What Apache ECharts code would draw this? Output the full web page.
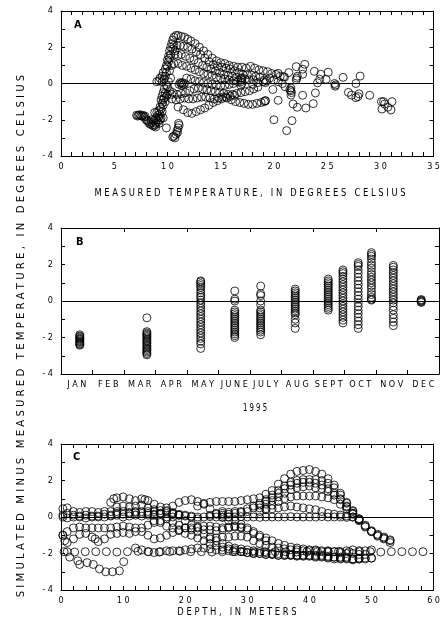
<!DOCTYPE html>
<html>
<head>
<meta charset="utf-8">
<script src="https://cdn.jsdelivr.net/npm/echarts@6/dist/echarts.min.js"></script>
<style>
  html, body { margin: 0; padding: 0; background: #fff; }
  #chart { width: 443px; height: 633px; }
</style>
</head>
<body>
<div id="chart"></div>
<script>
// ---------- Panel A: difference vs measured temperature (deg C) ----------
const aColdBlob = [[7.1,-1.75],[7.3,-1.75],[7.5,-1.78],[7.7,-1.75],[7.2,-1.8],[7.4,-1.72],[7.6,-1.8],[7.8,-1.85],[7.9,-1.8],
  [8.0,-2.0],[8.2,-2.1],[8.3,-2.2],[8.1,-2.05],[8.4,-2.25],[8.5,-2.15],[8.6,-2.3],[8.7,-2.35],[8.8,-2.3],[8.9,-2.2],[8.5,-2.0],
  [8.7,-2.05],[9.0,-2.0],[9.1,-2.1],[8.9,-1.9],[9.2,-1.85],[8.8,-1.6],[9.0,-1.6],[9.1,-1.75],[9.3,-1.7],[9.2,-1.5],[9.3,-1.3],
  [9.4,-1.4],[9.5,-1.1],[9.4,-0.9],[9.5,-0.7],[9.6,-0.9],[9.6,-0.5],[9.7,-0.3],[9.8,-0.55],[9.6,-1.2],[9.7,-0.8],[9.8,-1.0],
  [9.9,-0.7],[9.5,-1.55],[9.4,-1.9],[9.3,-2.0],[9.6,-1.9],[9.2,-2.2],[8.9,-2.4]];
const aRise = [[9.0,0.1],[9.2,0.15],[9.3,0.3],[9.5,0.4],[9.5,0.1],[9.7,0.25],[9.6,0.6],[9.8,0.8],[9.8,0.4],[9.9,1.0],[10.0,1.3],
  [9.9,0.6],[10.0,0.95],[10.1,1.5],[10.1,1.2],[10.2,1.8],[10.2,1.4],[10.3,2.0],[10.3,1.6],[10.4,2.2],[10.5,2.4],[10.6,2.55],
  [10.8,2.65],[10.5,1.9],[10.6,2.1],[10.7,1.8],[10.4,1.0],[10.2,0.7],[10.3,0.3],[10.1,0.1],[10.0,-0.2],[10.2,-0.4],[10.4,-0.6],
  [10.0,-0.6],[9.9,-0.1]];
const aWarm1 = [[11.0,2.65],[11.3,2.6],[11.6,2.55],[11.9,2.45],[12.2,2.35],[12.6,2.2],[13.0,2.0],[13.4,1.8],[13.8,1.6],[14.2,1.4],
  [14.6,1.25],[15.0,1.15],[15.4,1.1],[15.8,1.0],[16.2,0.95],[16.6,0.9],[17.0,0.9],[17.4,0.85],[17.8,0.95],[18.2,0.85],[18.6,0.75],
  [19.0,0.7],[19.4,0.65],[19.8,0.55],[20.2,0.5],[20.6,0.4],[21.0,0.35]];
const aWarm2 = [[10.9,2.1],[11.2,2.1],[11.5,2.05],[11.9,2.0],[12.3,1.9],[12.7,1.75],[13.1,1.6],[13.5,1.4],[13.9,1.2],[14.3,1.05],
  [14.7,0.95],[15.1,0.9],[15.5,0.85],[15.9,0.8],[16.3,0.7],[16.7,0.6],[17.1,0.5],[17.5,0.5],[17.9,0.45],[18.3,0.4],[18.7,0.35]];
const aWarm3 = [[10.7,1.6],[11.0,1.55],[11.3,1.6],[11.7,1.5],[12.1,1.4],[12.5,1.3],[12.9,1.15],[13.3,1.0],[13.7,0.9],[14.1,0.8],
  [14.5,0.7],[14.9,0.6],[15.3,0.5],[15.7,0.45],[16.1,0.4],[16.5,0.35],[16.9,0.3],[17.3,0.25],[17.7,0.2],[18.1,0.2]];
const aWarm4 = [[10.6,1.1],[11.0,1.1],[11.4,1.0],[11.8,0.95],[12.2,0.85],[12.6,0.75],[13.0,0.65],[13.4,0.55],[13.8,0.5],[14.2,0.45],
  [14.6,0.35],[15.0,0.3],[15.4,0.25],[15.8,0.2],[16.2,0.15],[16.6,0.1],
  [11.8,0.3],[12.2,0.25],[12.6,0.15],[13.0,0.1],[13.4,0.05],[13.8,0.0],[14.2,-0.05],[14.6,-0.1],[15.0,-0.15],[15.4,-0.1],[15.8,-0.05],[16.2,0.0],
  [11.1,-0.05],[11.3,0.0],[11.5,-0.05],[11.4,0.05],[11.2,0.05],[11.6,0.0],[11.35,-0.1]];
const aCool = [[10.5,-0.5],[10.9,-0.6],[11.3,-0.55],[11.7,-0.5],[12.1,-0.4],[12.5,-0.3],[12.9,-0.25],[13.3,-0.3],[13.7,-0.35],[14.1,-0.4],
  [14.5,-0.45],[14.9,-0.5],[15.3,-0.55],[15.7,-0.6],[16.1,-0.6],[16.5,-0.55],[16.9,-0.5],[17.3,-0.45],[17.7,-0.4],[18.1,-0.3],[18.5,-0.2],
  [10.4,-0.85],[10.8,-0.9],[11.2,-0.85],[11.6,-0.8],[12.0,-0.85],[12.4,-0.85],[12.8,-0.8],[13.2,-0.75],[13.6,-0.75],[14.0,-0.8],
  [14.4,-0.85],[14.8,-0.8],[15.2,-0.75],[15.6,-0.8],[16.0,-0.9],[16.4,-1.0],[16.8,-1.05],[17.2,-1.1],[17.6,-1.15],[18.0,-1.15],
  [18.4,-1.1],[18.8,-1.05],[19.2,-0.95],
  [11.0,-1.3],[11.5,-1.45],[11.9,-1.6],[12.3,-1.65],[12.7,-1.55],[13.1,-1.45],[13.5,-1.35],[13.9,-1.2],[14.3,-1.05],[14.7,-0.95],
  [15.1,-0.85],[15.5,-0.75],[15.9,-0.7],[16.3,-0.65],
  [9.9,-2.45],[10.5,-2.95],[10.7,-3.0],[10.8,-2.8],[10.9,-2.6],[11.0,-2.45],[11.1,-2.3],[11.05,-2.2],[10.95,-2.7],[10.6,-2.9]];
const aSummer = [[16.9,0.1],[16.95,0.2],[17.0,0.3],[17.0,0.0],[16.9,-0.1],[19.0,0.1],[19.1,0.2],[19.2,0.05],[19.3,0.15],
  [18.0,-0.05],[18.5,0.05],[19.6,0.3],[20.0,0.2],[20.4,0.1],[20.8,0.0],[19.2,-0.95],[19.1,-1.0],[20.4,0.56],[20.9,0.38],
  [21.4,0.6],[21.05,-0.18],[20.0,-2.0],[21.2,-2.6],[21.7,-2.05],[20.4,-0.93],[19.9,-0.33],[21.8,-1.13],[22.2,-1.31],[23.0,-1.35],
  [23.7,-1.11],[23.9,-0.52],[22.7,-0.65],[22.9,1.06],[22.1,0.93],[22.7,0.79],[22.7,0.51],[22.1,0.2],[22.15,0.3],[22.2,0.4],
  [21.6,-0.25],[21.6,-0.4],[21.65,-0.5],[21.6,-0.64],[21.5,-0.35],[23.8,0.67],[24.4,0.51],[25.1,0.62],[24.3,0.23],[24.1,0.04],
  [24.9,0.23],[25.8,-0.08],[25.7,0.0],[25.75,-0.15],[26.5,0.34],[27.7,0.0],[28.1,0.41],[27.0,-0.49],[27.3,-0.64],[27.7,-0.78],
  [27.9,-0.72],[28.0,-0.57],[29.0,-0.65],[30.3,-1.0],[30.4,-1.13],[30.15,-1.41],[30.7,-1.31],[31.1,-1.0],[31.0,-1.46],[30.1,-1.0]];

// ---------- Panel B: difference by sampling date, 1995 ----------
const months = ['JAN','FEB','MAR','APR','MAY','JUNE','JULY','AUG','SEPT','OCT','NOV','DEC'];
const monthDays = [31,28,31,30,31,30,31,31,30,31,30,31];
const sampleDates = [[1,19],[3,23],[5,14],[6,16],[7,11],[8,14],[9,15],[9,29],[10,14],[10,27],[11,17],[12,14]];
const diffJan = [-1.85,-1.92,-1.97,-2.03,-2.08,-2.12,-2.18,-2.22,-2.27,-2.33,-2.38,-2.42];
const diffMar = [-0.92,-1.68,-1.75,-1.82,-1.88,-1.95,-2.02,-2.1,-2.18,-2.25,-2.33,-2.42,-2.5,-2.58,-2.65,-2.72,-2.8,-2.88,-2.95];
const diffMay = [1.1,1.05,0.95,0.85,0.75,0.6,0.45,0.3,0.2,0.05,-0.1,-0.25,-0.4,-0.55,-0.7,-0.85,-1.0,-1.15,-1.3,-1.45,-1.6,-1.75,-1.9,-2.05,-2.2,-2.35,-2.6];
const diffJune = [0.55,0.1,0.0,-0.5,-0.6,-0.7,-0.8,-0.9,-1.0,-1.1,-1.2,-1.3,-1.4,-1.5,-1.6,-1.7,-1.8,-1.9,-2.0];
const diffJuly = [0.82,0.4,0.3,0.0,-0.2,-0.5,-0.6,-0.7,-0.8,-0.9,-1.0,-1.1,-1.2,-1.3,-1.4,-1.5,-1.6,-1.7,-1.85];
const diffAug = [0.65,0.55,0.45,0.35,0.25,0.15,0.05,-0.05,-0.15,-0.25,-0.35,-0.45,-0.55,-0.65,-0.75,-1.0,-1.2,-1.5];
const diffSept = [1.2,1.1,1.0,0.9,0.8,0.7,0.6,0.5,0.4,0.3,0.2,0.1,0.0,-0.1,-0.2,-0.3,-0.4,-0.5];
const diffSeptLate = [1.7,1.6,1.5,1.35,1.2,1.05,0.9,0.75,0.6,0.45,0.3,0.15,0.0,-0.15,-0.3,-0.45,-0.6,-0.75,-0.9,-1.05,-1.2];
const diffOct = [2.1,2.0,1.9,1.7,1.5,1.3,1.1,0.9,0.7,0.5,0.3,0.1,-0.1,-0.3,-0.5,-0.7,-0.9,-1.1,-1.3,-1.5];
const diffOctLate = [2.65,2.55,2.45,2.3,2.1,1.95,1.8,1.6,1.45,1.3,1.15,1.0,0.85,0.7,0.5,0.35,0.2,0.1,0.05];
const diffNov = [1.95,1.85,1.7,1.55,1.4,1.25,1.1,0.95,0.8,0.65,0.5,0.35,0.2,0.05,-0.1,-0.3,-0.5,-0.75,-0.95,-1.15,-1.35];
const diffDec = [0.08,0.04,0.0,-0.04,-0.08];
const diffByDate = [diffJan,diffMar,diffMay,diffJune,diffJuly,diffAug,diffSept,diffSeptLate,diffOct,diffOctLate,diffNov,diffDec];

// ---------- Panel C: difference vs depth (m), one array per profile ----------
const cWinter = [[0.5,-1.9],[2.2,-1.92],[3.9,-1.9],[5.6,-1.9],[7.3,-1.9],[9,-1.92],[10.7,-1.9],[12.4,-1.88],[14.1,-1.9],[15.8,-1.92],
  [17.5,-1.9],[19.2,-1.88],[20.9,-1.9],[22.6,-1.9],[24.3,-1.92],[26,-1.9],[27.7,-1.9],[29.4,-1.9],[31.1,-1.92],[32.8,-1.9],[34.5,-1.9],
  [36.2,-1.9],[37.9,-1.92],[39.6,-1.9],[41.3,-1.9],[43,-1.9],[44.7,-1.88],[46.4,-1.9],[48.1,-1.9],[49.8,-1.9],[51.5,-1.92],[53.2,-1.9],
  [54.9,-1.9],[56.6,-1.9],[58.3,-1.9]];
const cSpring = [[0.3,-1.0],[0.6,-1.3],[1,-1.9],[1.4,-2.2],[2.7,-2.4],[3.0,-2.6],[4.2,-2.5],[5.2,-2.6],[6.2,-2.85],[7.2,-3.0],[8.3,-3.0],[9.4,-2.95],[10.1,-2.45]];
const cShallow1 = [[0.3,0.45],[1,0.5],[2,0.3],[3,0.25],[4,0.3],[5,0.3],[6,0.25],[7,0.3],[8,0.3],[9,0.3],[10,0.3],[11,0.25],[12,0.3],[13,0.3],
  [14,0.2],[15,0.15],[16,0.2],[17,0.5],[18,0.6],[19,0.8],[20,0.9],[21,0.95],[22,0.85],[23,0.7],[24,0.45],[25,0.2],[26,0.0],[27,-0.2]];
const cShallow2 = [[0.3,0.1],[1,0.2],[2,0.1],[3,0.05],[4,0.1],[5,0.05],[6,0.0],[7,0.15],[8,0.1],[9,0.2],[10,0.15],[11,0.2],[12,0.25],
  [13,0.2],[14,0.3],[15,0.3],[16,0.35],[17,0.3],[18,0.2],[19,0.1],[20,0.05],[21,0.0],[22,-0.1]];
const cNearZero = [[0.3,0.0],[1,-0.05],[2,0.0],[3,0.0],[4,-0.05],[5,0.0],[6,0.05],[7,0.0],[8,0.05],[9,0.1],[10,0.0],[11,0.05],[12,0.1],
  [13,0.05],[14,0.1],[15,0.1],[16,0.15],[17,0.2],[18,0.15],[19,0.1],[20,0.1],[21,0.05],[22,0.0],[23,0.0],[24,0.02],[25,0.0],[26,-0.02],
  [27,0.0],[28,0.0],[29,0.02],[30,0.0],[31,0.0],[32,-0.02],[33,0.0],[34,0.0],[35,0.0],[36,0.0],[37,0.02],[38,0.0],[39,0.0],[40,0.0],
  [41,0.0],[42,0.02],[43,0.0],[44,0.0],[45,0.0],[46,-0.02],[47,0.0]];
const cHump1 = [[22,0.6],[23,0.75],[24,0.8],[25,0.85],[26,0.85],[27,0.85],[28,0.85],[29,0.9],[30,0.95],[31,1.0],[32,1.05],[33,1.25],[34,1.45],
  [35,1.8],[36,2.1],[37,2.35],[38,2.5],[39,2.55],[40,2.6],[41,2.5],[42,2.35],[43,2.1],[44,1.75],[45,1.3],[46,0.8],[47,0.35],[48,-0.1],
  [49,-0.45],[50,-0.75],[51,-0.95],[52,-1.1],[53,-1.25]];
const cHump2 = [[24,0.1],[25,0.15],[26,0.1],[27,0.15],[28,0.2],[29,0.3],[30,0.45],[31,0.6],[32,0.75],[33,0.95],[34,1.2],[35,1.45],[36,1.7],
  [37,1.9],[38,2.0],[39,2.05],[40,2.05],[41,2.05],[42,2.0],[43,1.85],[44,1.6],[45,1.2],[46,0.75],[47,0.3],[48,-0.15],[49,-0.5],[50,-0.8],
  [51,-1.0],[52,-1.15],[53,-1.3]];
const cHump3 = [[26,0.3],[27,0.25],[28,0.3],[29,0.25],[30,0.3],[31,0.5],[32,0.65],[33,0.85],[34,1.05],[35,1.3],[36,1.55],[37,1.75],[38,1.85],
  [39,1.9],[40,1.9],[41,1.85],[42,1.75],[43,1.55],[44,1.3],[45,1.0],[46,0.6],[47,0.2],[48,-0.2],[49,-0.55],[50,-0.8],[51,-1.05],
  [52,-1.2],[53,-1.4]];
const cHump4 = [[32,0.5],[33,0.7],[34,0.9],[35,1.1],[36,1.3],[37,1.5],[38,1.6],[39,1.65],[40,1.7],[41,1.6],[42,1.55],[43,1.4],[44,1.2],
  [45,0.95],[46,0.55],[47,0.2]];
const cHump5 = [[33,0.45],[34,0.65],[35,0.85],[36,1.0],[37,1.1],[38,1.15],[39,1.15],[40,1.15],[41,1.15],[42,1.1],[43,1.05],[44,0.95],
  [45,0.7],[46,0.45],[47,0.15],[48,-0.15]];
const cHump6 = [[32,0.3],[33,0.4],[34,0.45],[35,0.5],[36,0.55],[37,0.6],[38,0.55],[39,0.5],[40,0.45],[41,0.4],[42,0.3],[43,0.2],[44,0.15],
  [45,0.1],[46,0.05],[47,0.0],[48,-0.1]];
const cSummer1 = [[8,0.8],[8.5,1.0],[9,1.05],[10,1.1],[11,1.0],[12,0.9],[13,1.0],[13.5,0.95],[14,0.9],[15,0.7],[16,0.55],[17,0.35],[18,0.25],
  [19,0.15],[20,-0.2],[21,-0.45],[22,-0.6],[23,-0.7],[24,-0.7],[25,-0.75],[26,-0.7],[27,-0.6],[28,-0.55],[29,-0.6]];
const cSummer2 = [[9,0.55],[10,0.6],[11,0.55],[12,0.6],[13,0.65],[14,0.5],[15,0.4],[16,0.2],[17,0.0],[18,-0.3],[19,-0.45],[20,-0.6],[21,-0.7],
  [22,-0.8],[23,-0.95],[24,-1.1],[25,-1.3],[26,-1.45],[27,-1.6],[28,-1.7],[29,-1.75],[30,-1.8],[31,-1.85],[32,-1.9],[33,-1.95],[34,-2.0],
  [35,-2.0],[36,-2.05],[37,-2.05],[38,-2.1],[39,-2.1],[40,-2.1],[41,-2.15],[42,-2.1],[43,-2.15],[44,-2.2],[45,-2.2],[46,-2.25],[47,-2.3],[48,-2.25]];
const cSummer3 = [[15,-0.2],[16,-0.3],[17,-0.5],[18,-0.6],[19,-0.75],[20,-0.9],[21,-1.0],[22,-1.15],[23,-1.3],[24,-1.45],[25,-1.55],
  [26,-1.65],[27,-1.75],[28,-1.8],[29,-1.9],[30,-1.95],[31,-2.0],[32,-2.0],[33,-2.05],[34,-2.05],[35,-2.1],[36,-2.1],[37,-2.1],[38,-2.15],
  [39,-2.1],[40,-2.15],[41,-2.2],[42,-2.2],[43,-2.25],[44,-2.3],[45,-2.3],[46,-2.3],[47,-2.35],[48,-2.3],[49,-2.3],[50,-2.25]];
const cSummer4 = [[24,-1.2],[25,-1.15],[26,-1.1],[27,-1.1],[28,-1.05],[29,-1.05],[30,-1.1],[31,-1.3],[32,-1.45],[33,-1.55],[34,-1.65],
  [35,-1.7],[36,-1.75],[37,-1.8],[38,-1.8],[39,-1.85],[40,-1.85],[41,-1.85],[42,-1.9],[43,-1.9],[44,-1.9],[45,-1.9],[46,-1.85],[47,-1.8],
  [48,-1.85],[49,-1.85],[50,-1.8]];
const cSummer5 = [[26,0.2],[27,0.0],[28,-0.2],[29,-0.4],[30,-0.6],[31,-0.8],[32,-1.0],[33,-1.15],[34,-1.3],[35,-1.45],[36,-1.55],[37,-1.65],
  [38,-1.7],[39,-1.75],[40,-1.8],[41,-1.8],[42,-1.85],[43,-1.85],[44,-1.9],[45,-1.95],[46,-2.0],[47,-2.0],[48,-2.05],[49,-2.05]];
const cSummer6 = [[12,-1.7],[13,-1.8],[14,-1.9],[15,-1.95],[16,-1.9],[17,-1.85],[18,-1.85],[19,-1.85],[20,-1.8],[21,-1.75],[22,-1.7],
  [23,-1.7],[24,-1.75],[25,-1.8],[26,-1.8],[27,-1.85],[28,-1.9],[29,-1.9],[30,-1.95],[31,-2.0],[32,-2.0],[33,-2.05],[34,-2.05],[35,-2.1],
  [36,-2.1],[37,-2.1],[38,-2.1],[39,-2.15],[40,-2.1],[41,-2.1],[42,-2.15],[43,-2.2],[44,-2.2],[45,-2.25],[46,-2.2],[47,-2.3],[48,-2.3],
  [49,-2.25],[50,-2.25]];
const cCool1 = [[0.3,-1.0],[1,-0.8],[2,-0.6],[3,-0.55],[4,-0.6],[5,-0.6],[6,-0.6],[7,-0.6],[8,-0.6],[9,-0.55],[10,-0.5],[11,-0.55],[12,-0.6],
  [13,-0.8],[14,-1.0],[15,-1.2],[16,-1.15],[17,-1.0],[18,-0.85],[19,-0.7],[20,-0.6],[21,-0.6],[22,-0.55],[23,-0.5],[24,-0.5],[25,-0.55],
  [26,-0.6],[27,-0.55],[28,-0.5],[29,-0.55],[30,-0.7],[31,-0.9],[32,-1.1],[33,-1.3]];
const cCool2 = [[1,-1.4],[2,-1.2],[3,-0.95],[4,-0.9],[5,-1.1],[5.5,-1.2],[6,-1.35],[7,-1.2],[8,-0.95],[9,-0.9],[10,-0.85],[11,-0.9],[12,-0.8],
  [13,-0.6],[14,-0.45],[15,-0.3],[16,-0.2],[17,-0.1],[18,0.0]];

const panelA = [aColdBlob, aRise, aWarm1, aWarm2, aWarm3, aWarm4, aCool, aSummer];
const panelC = [cWinter, cSpring, cShallow1, cShallow2, cNearZero, cHump1, cHump2, cHump3, cHump4, cHump5, cHump6,
  cSummer1, cSummer2, cSummer3, cSummer4, cSummer5, cSummer6, cCool1, cCool2];

// ---------- chart ----------
const FONT = "'Liberation Sans Narrow', 'DejaVu Sans Condensed', 'Liberation Sans', sans-serif";
const spaced = s => String(s).split('').join(' ');

const grids = [
  { left: 61, top: 11, width: 378, height: 145 },
  { left: 61, top: 228, width: 378, height: 146 },
  { left: 61, top: 444, width: 379, height: 146 }
];

const lineStyle = { color: '#000', width: 1 };
const tickStyle = { show: true, inside: true, length: 4, lineStyle };
const minorStyle = n => ({ show: true, splitNumber: n, length: 4, lineStyle });
const labelStyle = { fontFamily: FONT, fontSize: 9, color: '#000' };

function valueX(grid, min, max, interval, minor, position, labels) {
  return {
    type: 'value', gridIndex: grid, position, min, max, interval,
    axisLine: { show: true, onZero: false, lineStyle },
    axisTick: tickStyle, minorTick: minorStyle(minor),
    axisLabel: labels ? Object.assign({ margin: 6, formatter: v => spaced(v) }, labelStyle) : { show: false },
    splitLine: { show: false }
  };
}
function valueY(grid, position, labels) {
  return {
    type: 'value', gridIndex: grid, position, min: -4, max: 4, interval: 2,
    axisLine: { show: true, onZero: false, lineStyle },
    axisTick: tickStyle, minorTick: minorStyle(2),
    axisLabel: labels ? Object.assign({ margin: 8, formatter: v => spaced(v) }, labelStyle) : { show: false },
    splitLine: { show: false }
  };
}
function monthX(position, labels) {
  return {
    type: 'category', gridIndex: 1, position, data: months, boundaryGap: true,
    axisLine: { show: true, onZero: false, lineStyle },
    axisTick: { show: true, inside: true, length: 4, alignWithLabel: false, lineStyle },
    axisLabel: labels ? Object.assign({ margin: 6, interval: 0, formatter: v => spaced(v) }, labelStyle) : { show: false },
    splitLine: { show: false }
  };
}

const xAxes = [
  valueX(0, 0, 35, 5, 5, 'bottom', true),   // 0
  valueX(0, 0, 35, 5, 5, 'top', false),     // 1
  monthX('bottom', true),                   // 2
  monthX('top', false),                     // 3
  { type: 'value', gridIndex: 1, min: 0, max: 12, show: false }, // 4: sampling time in months
  valueX(2, 0, 60, 10, 5, 'bottom', true),  // 5
  valueX(2, 0, 60, 10, 5, 'top', false)     // 6
];
const yAxes = [
  valueY(0, 'left', true), valueY(0, 'right', false),
  valueY(1, 'left', true), valueY(1, 'right', false),
  valueY(2, 'left', true), valueY(2, 'right', false)
];

const marker = {
  type: 'scatter', symbol: 'circle', symbolSize: 8, silent: true,
  itemStyle: { color: 'rgba(0,0,0,0)', borderColor: '#000', borderWidth: 1 }
};
function scatter(data, xi, yi) {
  return Object.assign({}, marker, { data, xAxisIndex: xi, yAxisIndex: yi });
}
function zeroLine(xi, yi) {
  return {
    type: 'scatter', data: [], xAxisIndex: xi, yAxisIndex: yi, silent: true,
    markLine: { silent: true, symbol: 'none', label: { show: false },
      lineStyle: { color: '#000', width: 1, type: 'solid' }, data: [{ yAxis: 0 }] }
  };
}

// sampling date -> fractional month position
const datePos = ([m, d]) => (m - 1) + (d - 0.5) / monthDays[m - 1];
const panelBData = [];
sampleDates.forEach((dt, i) => diffByDate[i].forEach(v => panelBData.push([datePos(dt), v])));

const series = [zeroLine(0, 0), zeroLine(4, 2), zeroLine(5, 4)];
panelA.forEach(d => series.push(scatter(d, 0, 0)));
series.push(scatter(panelBData, 4, 2));
panelC.forEach(d => series.push(scatter(d, 5, 4)));

const titleStyle = { fontFamily: FONT, fontSize: 11, fill: '#000', align: 'center', verticalAlign: 'middle' };
const wordSpaced = s => s.split(' ').map(spaced).join('   ');
function title(text, x, y, extra) {
  return Object.assign({ type: 'text', x, y, style: Object.assign({ text }, titleStyle) }, extra);
}
const panelTag = (t, left, top) => ({ type: 'text', left, top, style: { text: t, font: "bold 11px " + FONT, fill: '#000' } });
const graphic = [
  panelTag('A', 74, 20), panelTag('B', 76, 237), panelTag('C', 73, 452),
  title(wordSpaced('MEASURED TEMPERATURE, IN DEGREES CELSIUS'), 250, 193, { scaleX: 0.85 }),
  title(spaced('1995'), 255, 408, { scaleX: 0.7 }),
  title(wordSpaced('DEPTH, IN METERS'), 237, 612, { scaleX: 0.85 }),
  title(wordSpaced('SIMULATED MINUS MEASURED TEMPERATURE, IN DEGREES CELSIUS'), 21, 336, { rotation: Math.PI / 2, scaleX: 1.02 })
];

const chart = echarts.init(document.getElementById('chart'), null, { renderer: 'canvas' });
chart.setOption({
  animation: false,
  backgroundColor: '#fff',
  grid: grids,
  xAxis: xAxes,
  yAxis: yAxes,
  series,
  graphic
});
</script>
</body>
</html>
